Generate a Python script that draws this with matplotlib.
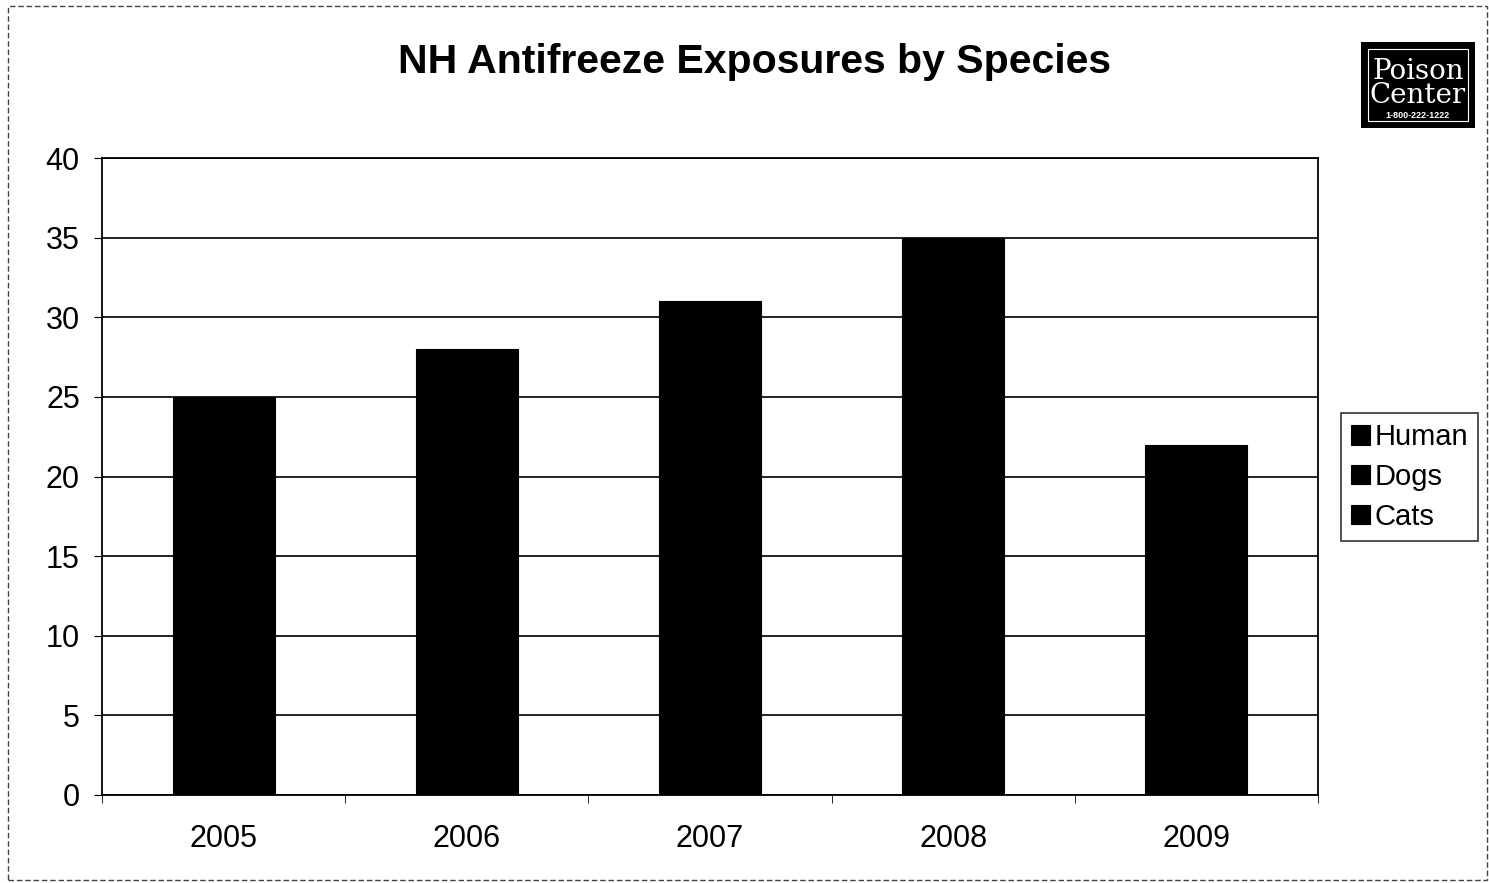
import matplotlib
matplotlib.use("Agg")
import matplotlib.pyplot as plt
from matplotlib.patches import Rectangle
import numpy as np

plt.rcParams['font.family'] = ['Liberation Sans', 'DejaVu Sans']

years = ["2005", "2006", "2007", "2008", "2009"]
human = [10, 11, 12, 14, 9]
dogs = [13, 14, 16, 18, 11]
cats = [2, 3, 3, 3, 2]
series_names = ["Human", "Dogs", "Cats"]
series_colors = ["#000000", "#000000", "#000000"]
yticks = [0, 5, 10, 15, 20, 25, 30, 35, 40]

W, H = 1489, 883
fig = plt.figure(figsize=(W / 100, H / 100), dpi=100)
ax = fig.add_axes([102 / W, 1 - 795 / H, (1318 - 102) / W, (795 - 158) / H])

x = np.arange(len(years))
bottom = np.zeros(len(years))
handles = []
for name, vals, col in zip(series_names, [human, dogs, cats], series_colors):
    b = ax.bar(x, vals, bottom=bottom, width=0.42, color=col, edgecolor=col,
               linewidth=0.8, label=name, zorder=3)
    handles.append(b)
    bottom += np.array(vals)

ax.set_ylim(0, 40)
ax.set_xlim(-0.5, len(years) - 0.5)
ax.set_yticks(yticks)
ax.set_yticklabels([str(t) for t in yticks], fontsize=22)
ax.yaxis.grid(True, color="#111111", linewidth=1.3, zorder=1)
ax.set_axisbelow(True)

ax.set_xticks(x)
ax.set_xticklabels(years, fontsize=22)
ax.tick_params(axis='x', length=0, pad=21)
ax.set_xticks(np.arange(-0.5, len(years), 1.0), minor=True)
ax.tick_params(axis='x', which='minor', length=6, direction='out', color='black')
ax.tick_params(axis='y', length=6, direction='out', pad=10)

for s in ax.spines.values():
    s.set_color("black")
    s.set_linewidth(1.3)

fig.text(755 / W, 1 - 62 / H, "NH Antifreeze Exposures by Species",
         ha='center', va='center', fontsize=29.5, fontweight='bold')

leg = ax.legend(handles=handles, labels=series_names, loc='center left',
                bbox_to_anchor=(1341 / W, 1 - 477 / H), bbox_transform=fig.transFigure,
                fontsize=21, frameon=True, fancybox=False, edgecolor='black',
                handlelength=0.65, handleheight=0.65, handletextpad=0.15,
                borderpad=0.35, labelspacing=0.4, borderaxespad=0)
leg.get_frame().set_linewidth(1.2)

# Poison Center logo
logo = fig.add_axes([1361 / W, 1 - 128 / H, (1475 - 1361) / W, (128 - 42) / H])
logo.set_xlim(0, 1)
logo.set_ylim(0, 1)
logo.axis('off')
logo.add_patch(Rectangle((0, 0), 1, 1, facecolor='black', edgecolor='black'))
logo.add_patch(Rectangle((0.06, 0.08), 0.88, 0.84, fill=False, edgecolor='white', linewidth=0.8))
logo.text(0.5, 0.66, "Poison", color='white', ha='center', va='center',
          fontsize=20, family='DejaVu Serif')
logo.text(0.5, 0.38, "Center", color='white', ha='center', va='center',
          fontsize=20, family='DejaVu Serif')
logo.text(0.5, 0.15, "1-800-222-1222", color='white', ha='center', va='center',
          fontsize=6.5, fontweight='bold')

# figure border
fig.patches.append(Rectangle((8 / W, 0.003), (W - 10) / W, 1 - 6 / H - 0.003,
                             transform=fig.transFigure, fill=False,
                             edgecolor='#444444', linewidth=1.0, linestyle=(0, (4, 2))))

fig.savefig("out.png", dpi=100)
